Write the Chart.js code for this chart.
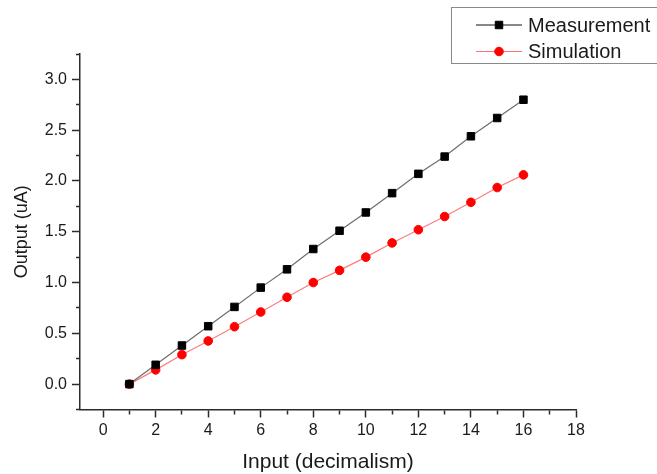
<!DOCTYPE html>
<html>
<head>
<meta charset="utf-8">
<script src="https://cdn.jsdelivr.net/npm/chart.js@4/dist/chart.umd.min.js"></script>
<style>
  html, body { margin: 0; padding: 0; background: #fff; }
  #wrap { width: 657px; height: 474px; }
</style>
</head>
<body>
<div id="wrap"><canvas id="c" width="657" height="474"></canvas></div>
<script>
// Input codes (decimal) and measured / simulated output current in uA
const inputs      = [1, 2, 3, 4, 5, 6, 7, 8, 9, 10, 11, 12, 13, 14, 15, 16];
const measurement = [0.00, 0.19, 0.38, 0.57, 0.76, 0.95, 1.13, 1.33, 1.51, 1.69, 1.88, 2.07, 2.24, 2.44, 2.62, 2.80];
const simulation  = [0.00, 0.14, 0.29, 0.425, 0.565, 0.71, 0.855, 1.00, 1.12, 1.25, 1.39, 1.52, 1.65, 1.79, 1.935, 2.06];

// Labelled (major) ticks; minor ticks sit halfway between them
const xMajorTicks = [0, 2, 4, 6, 8, 10, 12, 14, 16, 18];
const yMajorTicks = [0.0, 0.5, 1.0, 1.5, 2.0, 2.5, 3.0];

const FONT = "'Liberation Sans', Arial, sans-serif";
const AXIS = '#2b2b2b';
const TEXT = '#1a1a1a';

const pairs = ys => inputs.map((x, i) => ({ x: x, y: ys[i] }));
const near = (v, list) => list.some(t => Math.abs(t - v) < 1e-6);

function minorTicks(lo, hi, step) {
  const out = [];
  const n = Math.round((hi - lo) / step);
  for (let i = 0; i <= n; i++) out.push({ value: +(lo + i * step).toFixed(4) });
  return out;
}

// Framed legend in the top-right corner
const boxLegend = {
  id: 'boxLegend',
  afterDraw(chart) {
    const ctx = chart.ctx;
    ctx.save();
    ctx.strokeStyle = '#8a8a8a';
    ctx.lineWidth = 1;
    ctx.strokeRect(451.5, 7.5, 220, 56);
    const rows = [25, 51.5];
    chart.data.datasets.forEach((ds, i) => {
      const y = rows[i];
      ctx.strokeStyle = ds.legendLine;
      ctx.lineWidth = 1;
      ctx.beginPath();
      ctx.moveTo(476, y);
      ctx.lineTo(522, y);
      ctx.stroke();
      ctx.fillStyle = ds.pointBackgroundColor;
      ctx.strokeStyle = ds.pointBorderColor;
      ctx.lineWidth = 1;
      Chart.helpers.drawPoint(ctx, {
        pointStyle: ds.pointStyle,
        radius: ds.pointRadius,
        borderWidth: 1,
        rotation: 0
      }, 499, y);
      ctx.fillStyle = TEXT;
      ctx.font = '20px ' + FONT;
      ctx.textBaseline = 'middle';
      ctx.textAlign = 'left';
      ctx.fillText(ds.label, 528, y + 1);
    });
    ctx.restore();
  }
};

new Chart(document.getElementById('c'), {
  type: 'line',
  data: {
    datasets: [
      {
        label: 'Measurement',
        data: pairs(measurement),
        borderColor: 'rgba(60,60,60,0.75)',
        legendLine: '#111',
        borderWidth: 1.2,
        pointStyle: 'rect',
        pointRadius: 5.3,
        pointBackgroundColor: '#000',
        pointBorderColor: '#000',
        pointBorderWidth: 1,
        tension: 0
      },
      {
        label: 'Simulation',
        data: pairs(simulation),
        borderColor: 'rgba(255,80,80,0.75)',
        legendLine: 'rgba(255,100,100,0.9)',
        borderWidth: 1.2,
        pointStyle: 'circle',
        pointRadius: 4.3,
        pointBackgroundColor: '#ff0000',
        pointBorderColor: '#ff0000',
        pointBorderWidth: 1,
        tension: 0
      }
    ]
  },
  options: {
    responsive: false,
    animation: false,
    devicePixelRatio: 1,
    layout: { padding: { top: 54, right: 81, left: 0, bottom: 0 } },
    plugins: {
      legend: { display: false },
      tooltip: { enabled: false }
    },
    scales: {
      x: {
        type: 'linear',
        min: -0.88,
        max: 18,
        afterBuildTicks: s => { s.ticks = minorTicks(0, 18, 1); },
        afterFit: s => { s.height = 64.5; },
        border: { color: AXIS, width: 1.5 },
        grid: {
          drawOnChartArea: false,
          drawTicks: true,
          tickLength: 8,
          tickColor: AXIS,
          tickWidth: 1.5,
          tickBorderDash: c => near(c.tick.value, xMajorTicks) ? [] : [4, 100]
        },
        ticks: {
          autoSkip: false,
          maxRotation: 0,
          padding: 3,
          color: TEXT,
          font: { family: FONT, size: 16 },
          callback: v => near(v, xMajorTicks) ? String(Math.round(v)) : ''
        },
        title: {
          display: true,
          text: 'Input (decimalism)',
          color: TEXT,
          font: { family: FONT, size: 21, lineHeight: 1 },
          padding: { top: 0, bottom: 1.5 }
        }
      },
      y: {
        type: 'linear',
        min: -0.25,
        max: 3.25,
        afterBuildTicks: s => { s.ticks = minorTicks(-0.25, 3.25, 0.25); },
        afterFit: s => { s.width = 80; },
        border: { color: AXIS, width: 1.5 },
        grid: {
          drawOnChartArea: false,
          drawTicks: true,
          tickLength: 8,
          tickColor: AXIS,
          tickWidth: 1.5,
          tickBorderDash: c => near(c.tick.value, yMajorTicks) ? [] : [0, 4, 4, 100]
        },
        ticks: {
          autoSkip: false,
          padding: 5,
          color: TEXT,
          font: { family: FONT, size: 16 },
          callback: v => near(v, yMajorTicks) ? v.toFixed(1) : ''
        },
        title: {
          display: true,
          text: 'Output (uA)',
          color: TEXT,
          font: { family: FONT, size: 18, lineHeight: 1.2 },
          padding: { top: 11, bottom: 0 }
        }
      }
    }
  },
  plugins: [boxLegend]
});
</script>
</body>
</html>
